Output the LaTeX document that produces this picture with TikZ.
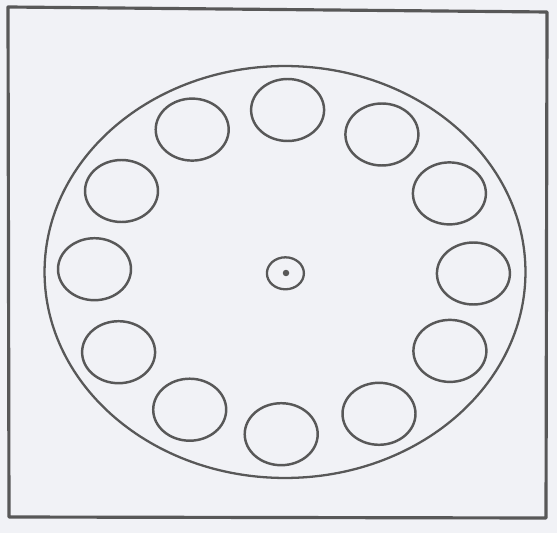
\documentclass[tikz,border=0pt]{standalone}
\usepackage{tikz}
\usetikzlibrary{shapes.geometric}
\definecolor{paper}{RGB}{241,242,246}
\definecolor{inkgray}{RGB}{88,88,88}
\tikzset{
  boxframe/.style={draw=inkgray, line width=1.8pt, line join=round},
  disc/.style={ellipse, draw=inkgray, line width=1.3pt, inner sep=0pt,
    minimum width=9.62cm, minimum height=8.24cm},
  hole/.style={ellipse, draw=inkgray, line width=1.4pt, inner sep=0pt,
    minimum width=1.46cm, minimum height=1.24cm},
  hub/.style={ellipse, draw=inkgray, line width=1.3pt, inner sep=0pt,
    minimum width=0.74cm, minimum height=0.64cm},
  pin/.style={circle, fill=inkgray, inner sep=0pt, minimum size=0.13cm},
}
\begin{document}
\begin{tikzpicture}[x=0.02cm, y=-0.02cm]

  %% paper
  \fill[paper] (0,0) rectangle (557,533);
  \useasboundingbox (0,0) rectangle (557,533);

  %% outer frame
  \draw[boxframe] (8,7) -- (547,12) -- (546,518) -- (9,517) -- cycle;

  %% disc
  \node[disc] (plate) at (285,272) {};

  %% holes round the rim
  \node[hole] (h1)  at (287.6,110.0) {};
  \node[hole] (h2)  at (381.9,134.5) {};
  \node[hole] (h3)  at (449.4,193.4) {};
  \node[hole] (h4)  at (473.4,273.5) {};
  \node[hole] (h5)  at (449.9,350.9) {};
  \node[hole] (h6)  at (379.0,413.8) {};
  \node[hole] (h7)  at (281.2,434.2) {};
  \node[hole] (h8)  at (189.7,409.7) {};
  \node[hole] (h9)  at (118.6,352.2) {};
  \node[hole] (h10) at (94.5,269.2) {};
  \node[hole] (h11) at (121.5,191.0) {};
  \node[hole] (h12) at (192.2,129.6) {};

  %% centre
  \node[hub] (hub) at (285.4,273.3) {};
  \node[pin] (pin) at (286,273) {};

\end{tikzpicture}
\end{document}
